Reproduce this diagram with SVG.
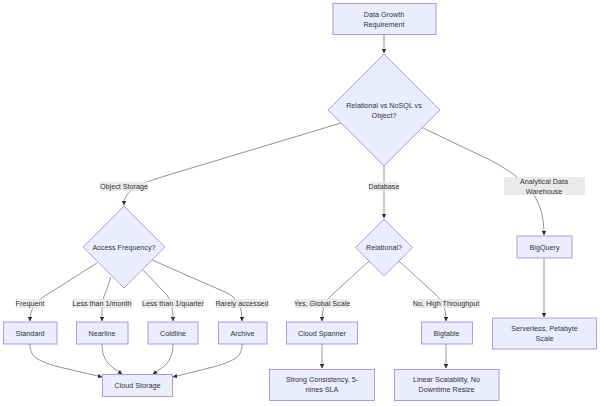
<svg xmlns="http://www.w3.org/2000/svg" width="600" height="406" viewBox="0 0 600 406">
  <defs>
    <marker id="arrow" viewBox="0 0 10 10" refX="9" refY="5" markerWidth="5" markerHeight="5" orient="auto">
      <path d="M0,0 L10,5 L0,10 z" fill="#333"/>
    </marker>
    <style>
      .node rect, .node polygon { fill: #ECECFF; stroke: #a98fe3; stroke-width: 0.9; }
      .node text { font-family: "Liberation Sans", Arial, sans-serif; font-size: 7.2px; fill: #333; text-anchor: middle; dominant-baseline: central; }
      .edges path { fill: none; stroke: #888; stroke-width: 0.9; }
      .edges path.arr { marker-end: url(#arrow); }
      .elabel rect { fill: #e8e8e8; opacity: 0.9; }
      .elabel text { font-family: "Liberation Sans", Arial, sans-serif; font-size: 7.2px; fill: #333; text-anchor: middle; dominant-baseline: central; }
    </style>
  </defs>
  <rect width="600" height="406" fill="#ffffff"/>

  <!-- connectors -->
  <g class="edges">
    <path class="arr" d="M384,34 L384,53"/>
    <path class="arr" d="M341,123 L165,176 C132,186 124,193 124,205"/>
    <path class="arr" d="M384,166 L384,218"/>
    <path class="arr" d="M423,128 L490,160 C530,181 544,200 544,235"/>
    <path class="arr" d="M97,263 L48,294 C34,302 30,310 30,321"/>
    <path class="arr" d="M111,277 L105,294 C102,300 102,308 102,321"/>
    <path class="arr" d="M143,270 L166,294 C171,300 173,308 173,321"/>
    <path class="arr" d="M152,260 L225,292 C238,298 242,306 242,321"/>
    <path class="arr" d="M30,344 C30,356 36,360 55,366 L102,377"/>
    <path class="arr" d="M102,344 C102,356 106,362 112,367 L122,374"/>
    <path class="arr" d="M173,344 C173,356 169,362 163,367 L153,374"/>
    <path class="arr" d="M242,344 C242,356 236,360 217,366 L173,377"/>
    <path class="arr" d="M369,261 L334,293 C325,301 322,308 322,321"/>
    <path class="arr" d="M399,261 L434,293 C443,301 446,308 446,321"/>
    <path class="arr" d="M322,344 L322,368"/>
    <path class="arr" d="M446,344 L446,368"/>
    <path class="arr" d="M544,258 L544,317"/>
  </g>

  <!-- connector labels -->
  <g class="elabel">
    <rect x="100" y="182" width="48" height="9"/><text x="124" y="186.5">Object Storage</text>
    <rect x="369" y="182" width="30" height="9"/><text x="384" y="186.5">Database</text>
    <rect x="504" y="177" width="81" height="18"/><text x="544" y="181.5">Analytical Data</text><text x="544" y="191">Warehouse</text>
    <rect x="16" y="299" width="28" height="9"/><text x="30" y="303.5">Frequent</text>
    <rect x="72" y="299" width="60" height="9"/><text x="102" y="303.5">Less than 1/month</text>
    <rect x="142" y="299" width="62" height="9"/><text x="173" y="303.5">Less than 1/quarter</text>
    <rect x="216" y="299" width="52" height="9"/><text x="242" y="303.5">Rarely accessed</text>
    <rect x="295" y="299" width="54" height="9"/><text x="322" y="303.5">Yes, Global Scale</text>
    <rect x="413" y="299" width="67" height="9"/><text x="446" y="303.5">No, High Throughput</text>
  </g>

  <!-- nodes -->
  <g id="start" class="node">
    <rect x="333" y="3.5" width="103" height="31"/>
    <text x="384" y="14">Data Growth</text><text x="384" y="24">Requirement</text>
  </g>
  <g id="dbType" class="node">
    <polygon points="384,54 440,110 384,166 328,110"/>
    <text x="384" y="105">Relational vs NoSQL vs</text><text x="384" y="115">Object?</text>
  </g>
  <g id="access" class="node">
    <polygon points="124,206 165,247 124,288 83,247"/>
    <text x="124" y="247">Access Frequency?</text>
  </g>
  <g id="relational" class="node">
    <polygon points="384,219 412.5,247.5 384,276 355.5,247.5"/>
    <text x="384" y="247.5">Relational?</text>
  </g>
  <g id="bigquery" class="node">
    <rect x="517" y="236" width="55" height="22"/>
    <text x="544.5" y="247">BigQuery</text>
  </g>
  <g id="standard" class="node">
    <rect x="3.5" y="322" width="53.5" height="22"/>
    <text x="30" y="333">Standard</text>
  </g>
  <g id="nearline" class="node">
    <rect x="76.5" y="322" width="51.5" height="22"/>
    <text x="102" y="333">Nearline</text>
  </g>
  <g id="coldline" class="node">
    <rect x="148" y="322" width="50" height="22"/>
    <text x="173" y="333">Coldline</text>
  </g>
  <g id="archive" class="node">
    <rect x="218.5" y="322" width="48.5" height="22"/>
    <text x="242.5" y="333">Archive</text>
  </g>
  <g id="spanner" class="node">
    <rect x="286.5" y="322" width="71" height="22"/>
    <text x="322" y="333">Cloud Spanner</text>
  </g>
  <g id="bigtable" class="node">
    <rect x="421.5" y="322" width="51" height="22"/>
    <text x="446.5" y="333">Bigtable</text>
  </g>
  <g id="serverless" class="node">
    <rect x="492.5" y="318" width="104" height="31"/>
    <text x="544.5" y="328.5">Serverless, Petabyte</text><text x="544.5" y="338.5">Scale</text>
  </g>
  <g id="cloudStorage" class="node">
    <rect x="102.5" y="374.5" width="70" height="22"/>
    <text x="137.5" y="385.5">Cloud Storage</text>
  </g>
  <g id="strong" class="node">
    <rect x="269.5" y="369.5" width="105" height="31"/>
    <text x="322" y="379.5">Strong Consistency, 5-</text><text x="322" y="389.5">nines SLA</text>
  </g>
  <g id="linear" class="node">
    <rect x="394.5" y="369.5" width="104.5" height="31"/>
    <text x="446.5" y="379.5">Linear Scalability, No</text><text x="446.5" y="389.5">Downtime Resize</text>
  </g>
</svg>
